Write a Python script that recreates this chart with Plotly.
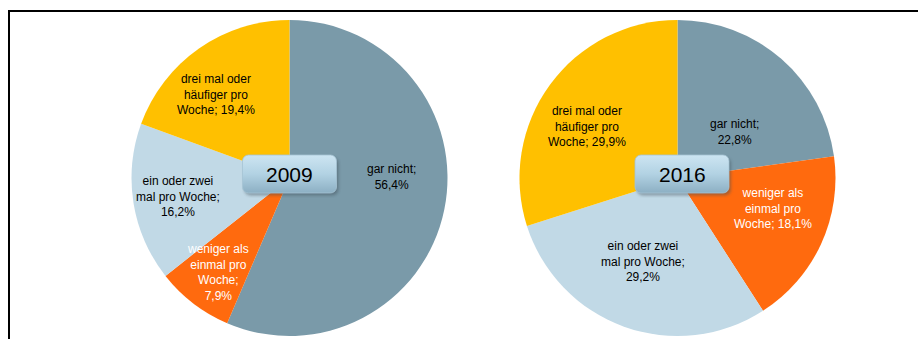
import base64
import plotly.graph_objects as go

W, H = 918, 339

# Data
categories = [
    "gar nicht",
    "weniger als einmal pro Woche",
    "ein oder zwei mal pro Woche",
    "drei mal oder häufiger pro Woche",
]
years = ["2009", "2016"]
values_2009 = [56.4, 7.9, 16.2, 19.4]
values_2016 = [22.8, 18.1, 29.2, 29.9]

# Wrapped label templates per pie ({v} is filled with the value)
labels_2009 = [
    "gar nicht;<br>{v}",
    "weniger als<br>einmal pro<br>Woche;<br>{v}",
    "ein oder zwei<br>mal pro Woche;<br>{v}",
    "drei mal oder<br>häufiger pro<br>Woche; {v}",
]
labels_2016 = [
    "gar nicht;<br>{v}",
    "weniger als<br>einmal pro<br>Woche; {v}",
    "ein oder zwei<br>mal pro Woche;<br>{v}",
    "drei mal oder<br>häufiger pro<br>Woche; {v}",
]

colors = ["#7A9AA9", "#FF6A0E", "#C1D9E6", "#FFC000"]
text_colors = ["black", "white", "black", "black"]

# Label centres (pixels) per slice
label_pos_2009 = [(391, 177), (218, 272), (178, 196), (216, 94)]
label_pos_2016 = [(734, 132), (773, 208), (643, 261), (587, 126)]


def px(x):
    return x / W


def py(y):
    return 1 - y / H


def fmt(v):
    return f"{v:.1f}".replace(".", ",") + "%"


R = 158
CY = 178
centers_x = [289.5, 677.5]

fig = go.Figure()
for cx, vals in zip(centers_x, [values_2009, values_2016]):
    fig.add_trace(go.Pie(
        labels=categories,
        values=vals,
        sort=False,
        direction="clockwise",
        rotation=0,
        marker=dict(colors=colors, line=dict(width=0)),
        textinfo="none",
        hoverinfo="label+percent",
        showlegend=False,
        domain=dict(x=[px(cx - R), px(cx + R)], y=[py(CY + R), py(CY - R)]),
    ))

annotations = []
for vals, tmpls, poss in [
    (values_2009, labels_2009, label_pos_2009),
    (values_2016, labels_2016, label_pos_2016),
]:
    for v, t, (x, y), c in zip(vals, tmpls, poss, text_colors):
        annotations.append(dict(
            x=px(x), y=py(y), xref="paper", yref="paper",
            text=t.format(v=fmt(v)), showarrow=False,
            xanchor="center", yanchor="middle", align="center",
            font=dict(family="Liberation Sans, Arial, sans-serif", size=12, color=c),
        ))


def box_uri(bw, bh):
    svg = (
        f"<svg xmlns='http://www.w3.org/2000/svg' width='{bw + 6}' height='{bh + 6}' "
        f"viewBox='0 0 {bw + 6} {bh + 6}'>"
        "<defs><linearGradient id='g' x1='0' y1='0' x2='0' y2='1'>"
        "<stop offset='0' stop-color='#CDE5F2'/>"
        "<stop offset='0.5' stop-color='#B2D2E3'/>"
        "<stop offset='1' stop-color='#8CAFC3'/></linearGradient>"
        "<filter id='s' x='-20%' y='-30%' width='140%' height='160%'>"
        "<feGaussianBlur stdDeviation='1.4'/></filter></defs>"
        f"<rect x='3' y='3.5' width='{bw}' height='{bh}' rx='6' fill='#40505a' "
        "opacity='0.45' filter='url(#s)'/>"
        f"<rect x='1' y='1' width='{bw}' height='{bh}' rx='6' fill='url(#g)' "
        "stroke='#A6C4D4' stroke-width='0.8'/>"
        "</svg>"
    )
    return "data:image/svg+xml;base64," + base64.b64encode(svg.encode()).decode()


images = []
box_w, box_h = 94, 38
box_centers = [(289.5, 174), (682, 174)]
for (bx, by), yr in zip(box_centers, years):
    x0 = bx - box_w / 2 - 1
    y0 = by - box_h / 2 - 1
    images.append(dict(
        source=box_uri(box_w, box_h), xref="paper", yref="paper",
        x=px(x0), y=py(y0), sizex=(box_w + 6) / W, sizey=(box_h + 6) / H,
        xanchor="left", yanchor="top", sizing="stretch", layer="above",
    ))
    annotations.append(dict(
        x=px(bx), y=py(by), xref="paper", yref="paper", text=yr,
        showarrow=False, xanchor="center", yanchor="middle",
        font=dict(family="Liberation Sans, Arial, sans-serif", size=21, color="black"),
    ))

# Outer frame (top and left edges visible)
shapes = [dict(
    type="rect", xref="paper", yref="paper",
    x0=px(9), x1=px(940), y0=py(11), y1=py(360),
    line=dict(color="black", width=2), fillcolor="rgba(0,0,0,0)", layer="above",
)]

fig.update_layout(
    width=W, height=H,
    margin=dict(l=0, r=0, t=0, b=0),
    paper_bgcolor="white", plot_bgcolor="white",
    annotations=annotations, images=images, shapes=shapes,
)

fig.write_html("out.html")
